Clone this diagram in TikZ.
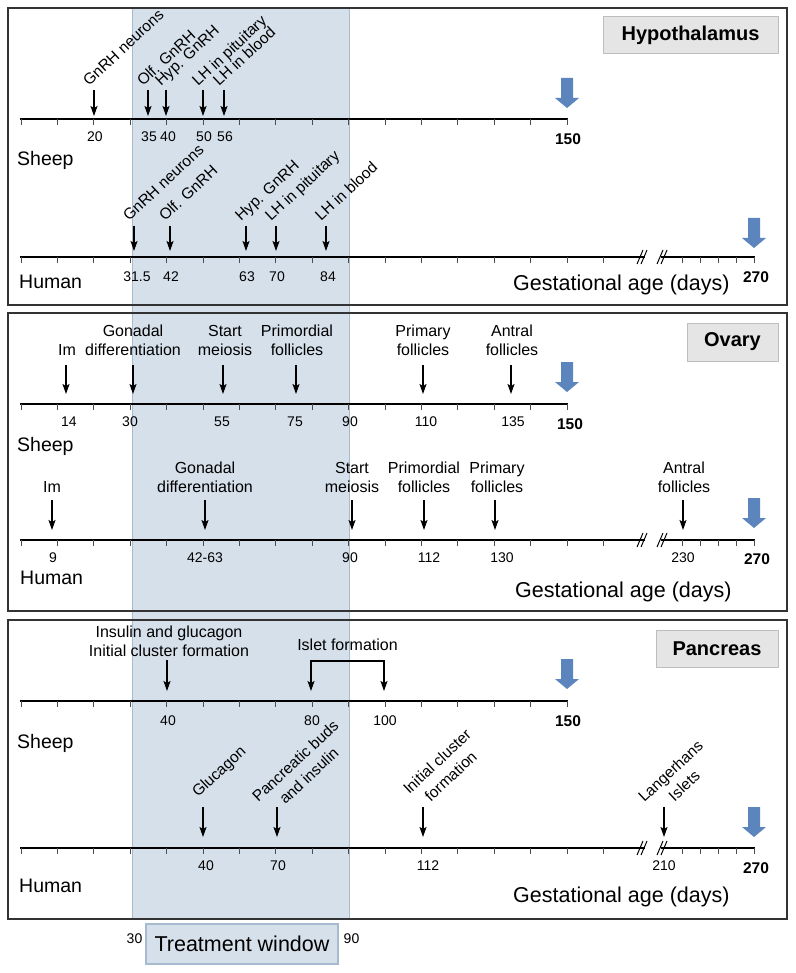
\documentclass[tikz,border=0pt]{standalone}
\usepackage{fontspec}
\setmainfont{Liberation Sans}
\usetikzlibrary{arrows.meta}

\definecolor{bandblue}{RGB}{214,224,235}
\definecolor{bandedge}{RGB}{168,186,208}
\definecolor{boxgray}{RGB}{229,229,229}
\definecolor{boxedge}{RGB}{190,190,190}
\definecolor{bigblue}{RGB}{91,133,188}

\tikzstyle{panel} = [draw=black!80, line width=1.2pt]
\tikzstyle{axis} = [line width=2pt]
\tikzstyle{tick} = [line width=0.8pt, draw=black!70]
\tikzstyle{brk} = [line width=1pt]
\tikzstyle{evarrow} = [line width=1.3pt, ->]
\tikzstyle{rlabel} = [rotate=43, anchor=base west, inner sep=0pt, align=center, font=\fontsize{15.5}{20}\selectfont]
\tikzstyle{hlabel} = [anchor=south, inner sep=0pt, align=center, font=\fontsize{16}{19}\selectfont]
\tikzstyle{num} = [inner sep=0pt, font=\fontsize{14}{16}\selectfont]
\tikzstyle{endnum} = [inner sep=0pt, font=\fontsize{15.5}{17}\selectfont\bfseries]
\tikzstyle{species} = [anchor=west, inner sep=0pt, font=\fontsize{19.5}{22}\selectfont]
\tikzstyle{gestation} = [anchor=west, inner sep=0pt, font=\fontsize{21.5}{24}\selectfont]
\tikzstyle{organ} = [fill=boxgray, draw=boxedge, line width=1pt, inner sep=0pt, font=\fontsize{20}{24}\selectfont\bfseries]
\tikzset{bigarrow/.pic={\fill[bigblue] (-6,0) -- (6,0) -- (6,20) -- (12,20) -- (0,30) -- (-12,20) -- (-6,20) -- cycle;}}

\begin{document}
\begin{tikzpicture}[x=1pt, y=-1pt, >={Stealth[length=10pt,width=7pt,inset=2pt]}]
\useasboundingbox (0,0) rectangle (795,973);

% treatment window band
\fill[bandblue] (132,8) rectangle (349,919);
\draw[bandedge] (132,8) -- (132,919) (349,8) -- (349,919);

% panels
\draw[panel] (8,8) rectangle (787,305);
\draw[panel] (8,313) rectangle (787,611);
\draw[panel] (8,620) rectangle (787,919);

\node[organ, minimum width=175pt, minimum height=37pt] (hypo) at (690.5,35.5) {Hypothalamus};
\node[organ, minimum width=91pt, minimum height=38pt] (ovary) at (732.5,342) {Ovary};
\node[organ, minimum width=122pt, minimum height=37pt] (pancreas) at (717,648.5) {Pancreas};

% sheep axes
\foreach \y in {119,404,701} {
  \draw[axis] (20,\y) -- (568,\y);
  \foreach \i in {0,...,15} \draw[tick] (21+\i*36.4,\y) -- ++(0,6);
}
% human axes with break
\foreach \y in {257,540,848} {
  \draw[axis] (20,\y) -- (645,\y);
  \draw[axis] (661,\y) -- (755,\y);
  \foreach \i in {0,...,16} \draw[tick] (21+\i*36.4,\y) -- ++(0,6);
  \foreach \x in {682,700,718,736,754} \draw[tick] (\x,\y) -- ++(0,6);
  \foreach \c in {643,663} {
    \draw[brk] (\c-6,\y+7) -- (\c,\y-7);
    \draw[brk] (\c-2,\y+7) -- (\c+4,\y-7);
  }
}

% term arrows
\pic at (567,78) {bigarrow};
\pic at (567,362) {bigarrow};
\pic at (567,659) {bigarrow};
\pic at (754,218) {bigarrow};
\pic at (754,498) {bigarrow};
\pic at (754,807) {bigarrow};

% Hypothalamus - sheep
\foreach \x/\t [count=\i] in {94/GnRH neurons, 148/Olf. GnRH, 166/Hyp. GnRH, 203/LH in pituitary, 224/LH in blood} {
  \coordinate (hs\i) at (\x,90);
  \node[rlabel] (hsl\i) at (\x-5,87) {\t};
  \draw[evarrow] (hs\i) -- (\x,116);
}
\foreach \x/\n [count=\i] in {95/20, 149/35, 168/40, 204/50, 225/56}
  \node[num] (hsn\i) at (\x,137) {\n};
\node[endnum] (hsend) at (568,139) {150};
\node[species] (hsheep) at (17,160) {Sheep};

% Hypothalamus - human
\foreach \x/\t [count=\i] in {134/GnRH neurons, 170/Olf. GnRH, 246/Hyp. GnRH, 276/LH in pituitary, 326/LH in blood} {
  \coordinate (hh\i) at (\x,226);
  \node[rlabel] (hhl\i) at (\x-5,222) {\t};
  \draw[evarrow] (hh\i) -- (\x,251);
}
\foreach \x/\n [count=\i] in {137/31.5, 171/42, 247/63, 277/70, 328/84}
  \node[num] (hhn\i) at (\x,277) {\n};
\node[endnum] (hhend) at (756,277) {270};
\node[species] (hhuman) at (19,282) {Human};
\node[gestation] (hgest) at (513,285) {Gestational age (days)};

% Ovary - sheep
\foreach \x/\lx/\t [count=\i] in {66/67/Im, 133/133/Gonadal\\differentiation, 223/225/Start\\meiosis, 296/297/Primordial\\follicles, 423/423/Primary\\follicles, 511/512/Antral\\follicles} {
  \coordinate (os\i) at (\x,365);
  \node[hlabel] (osl\i) at (\lx,356) {\t};
  \draw[evarrow] (os\i) -- (\x,394);
}
\foreach \x/\n [count=\i] in {69/14, 130/30, 222/55, 295/75, 350/90, 426/110, 513/135}
  \node[num] (osn\i) at (\x,422) {\n};
\node[endnum] (osend) at (570,424) {150};
\node[species] (osheep) at (17,446) {Sheep};

% Ovary - human
\foreach \x/\lx/\t [count=\i] in {52/52/Im, 205/205/Gonadal\\differentiation, 352/352/Start\\meiosis, 424/424/Primordial\\follicles, 495/497/Primary\\follicles, 683/684/Antral\\follicles} {
  \coordinate (oh\i) at (\x,500);
  \node[hlabel] (ohl\i) at (\lx,493) {\t};
  \draw[evarrow] (oh\i) -- (\x,530);
}
\foreach \x/\n [count=\i] in {53/9, 205/42-63, 350/90, 429/112, 502/130, 683/230}
  \node[num] (ohn\i) at (\x,558) {\n};
\node[endnum] (ohend) at (757,559) {270};
\node[species] (ohuman) at (20,578) {Human};
\node[gestation] (ogest) at (515,592) {Gestational age (days)};

% Pancreas - sheep
\coordinate (ps1) at (167,660);
\node[hlabel] (psl1) at (169,657) {Insulin and glucagon\\Initial cluster formation};
\draw[evarrow] (ps1) -- (167,691);
\coordinate (ps2a) at (311,661);
\coordinate (ps2b) at (384,661);
\node[hlabel] (psl2) at (347.5,651) {Islet formation};
\draw[evarrow, <->] (311,691) -- (ps2a) -- (ps2b) -- (384,691);
\foreach \x/\n [count=\i] in {168/40, 312/80, 385/100}
  \node[num] (psn\i) at (\x,721) {\n};
\node[endnum] (psend) at (568,721) {150};
\node[species] (psheep) at (17,743) {Sheep};

% Pancreas - human
\coordinate (ph1) at (203,807);
\coordinate (ph2) at (277,807);
\coordinate (ph3) at (423,807);
\coordinate (ph4) at (664,807);
\node[rlabel] (phl1) at (198,798) {Glucagon};
\node[rlabel, anchor=south west] (phl2) at (272,818) {Pancreatic buds\\and insulin};
\node[rlabel, anchor=south west] (phl3) at (423,810) {Initial cluster\\formation};
\node[rlabel, anchor=south west] (phl4) at (658,818) {Langerhans\\Islets};
\foreach \i/\x in {1/203, 2/277, 3/423, 4/664}
  \draw[evarrow] (ph\i) -- (\x,837);
\foreach \x/\n [count=\i] in {206/40, 278/70, 428/112, 664/210}
  \node[num] (phn\i) at (\x,866) {\n};
\node[endnum] (phend) at (756,868) {270};
\node[species] (phuman) at (19,886) {Human};
\node[gestation] (pgest) at (513,897) {Gestational age (days)};

% treatment window
\node[draw=bandedge, line width=1.5pt, fill=bandblue, minimum width=192pt, minimum height=40pt, inner sep=0pt, font=\fontsize{21.5}{24}\selectfont] (twin) at (242,944) {Treatment window};
\node[num] (twstart) at (134.5,939) {30};
\node[num] (twend) at (351.5,939) {90};

\end{tikzpicture}
\end{document}
